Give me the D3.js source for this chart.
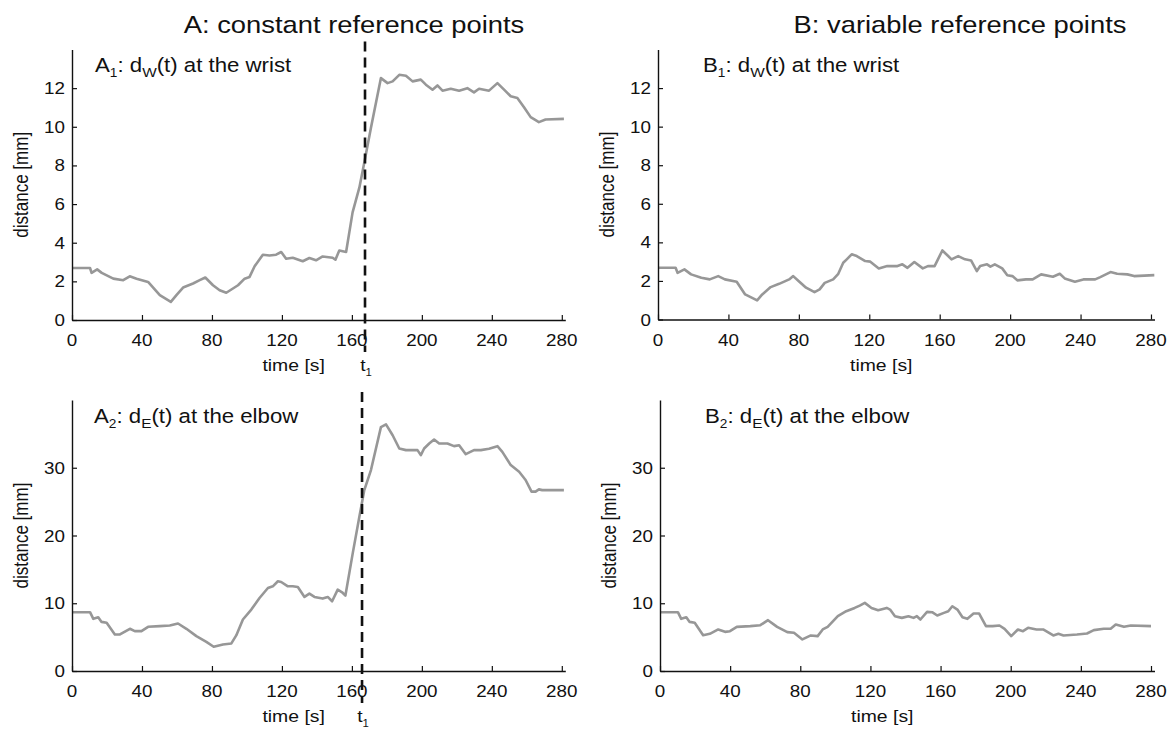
<!DOCTYPE html>
<html>
<head>
<meta charset="utf-8">
<script src="https://cdn.jsdelivr.net/npm/d3@7"></script>
<style>
  html, body { margin: 0; padding: 0; background: #fff; }
  svg text { font-family: "Liberation Sans", Arial, Helvetica, sans-serif; fill: #111; }
</style>
</head>
<body>
<svg id="chart" width="1172" height="729"></svg>
<script>
// ---------------- data ----------------
const xTicks = [0, 40, 80, 120, 160, 200, 240, 280];
const yTicksWrist = [0, 2, 4, 6, 8, 10, 12];
const yTicksElbow = [0, 10, 20, 30];
const columnTitles = ["A: constant reference points", "B: variable reference points"];

const a1T = [0,10.3,11.2,14.4,17,23.6,29.3,33,36.9,43.5,50.2,56.5,59.7,63.5,69.2,73,76.2,80.6,84.4,88.2,92,94.9,98.7,101.5,104.4,109.1,112.9,116.7,119.6,122.4,126.2,131.9,135.7,139.5,143.3,149,150.6,152.8,156.7,160.4,164.3,167.1,170.9,176.6,180.4,183.3,187.1,190.9,194.7,199.4,202.3,206.1,208.9,211.8,216.5,221.3,226,229.8,232.7,238.4,243.2,247,250.8,254.6,258.4,262.2,266.9,270.7,281.2];
const a1V = [2.69,2.69,2.44,2.62,2.44,2.14,2.06,2.26,2.14,1.97,1.29,0.94,1.29,1.68,1.89,2.06,2.2,1.8,1.54,1.41,1.63,1.8,2.14,2.23,2.78,3.38,3.34,3.38,3.52,3.17,3.22,3.04,3.21,3.09,3.29,3.22,3.12,3.6,3.52,5.57,6.86,8.15,9.95,12.52,12.26,12.35,12.69,12.64,12.35,12.44,12.18,11.92,12.14,11.87,11.97,11.87,12.0,11.78,11.97,11.87,12.26,11.92,11.58,11.49,11.01,10.5,10.24,10.38,10.41];

const b1T = [0,10,11.1,15,18.8,24.6,29.4,34.2,38,44.7,49.5,56.3,59.2,64,68.8,74.5,76.8,80.3,84.1,88.9,91.8,94.7,99.5,102.4,105.2,107.2,110,112.9,117.7,120.6,125.4,130.2,136,138.8,141.7,145.6,150.4,153.3,157.1,159,161.5,164.8,166.7,170.5,174.4,177.8,181.1,183,186.9,188.8,191.3,195.5,198.4,201.3,204.1,209,212.8,217.6,224.3,228.2,231,236.8,241.6,248.3,251.2,257,260.8,266.6,270.4,281.9];
const b1V = [2.68,2.68,2.42,2.6,2.34,2.16,2.08,2.25,2.08,1.96,1.3,0.99,1.3,1.68,1.85,2.08,2.25,1.96,1.65,1.42,1.56,1.9,2.08,2.37,2.94,3.12,3.38,3.29,3.03,3.0,2.65,2.77,2.77,2.86,2.68,2.98,2.65,2.77,2.77,3.12,3.58,3.29,3.12,3.29,3.12,3.06,2.51,2.77,2.86,2.74,2.86,2.65,2.29,2.25,2.03,2.08,2.08,2.34,2.22,2.37,2.13,1.96,2.08,2.08,2.2,2.46,2.37,2.34,2.25,2.3];

const a2T = [0,10.3,12.2,15,16.9,19.8,24.5,27.4,33.1,35.9,39.7,43.5,50.2,55.9,60.6,65.4,71.1,76.8,81,86.3,91.1,93.9,97.7,102.5,107.2,112,114.8,117.7,119.6,123.4,126.2,129.1,132.9,135.7,138.6,143.3,146.2,148.7,151.9,154.4,156.3,160.5,164.3,167.1,170.9,176.6,179.5,183.3,187.1,190.9,197.5,199.4,201.3,204.2,207,209.9,214.6,218.4,221.3,225.1,229.8,233.7,238.4,243.2,246,250.8,255.6,259.3,262.7,265,266.9,268.8,281.2];
const a2V = [8.68,8.68,7.7,7.94,7.25,7.11,5.39,5.39,6.23,5.88,5.88,6.52,6.62,6.72,7.01,6.23,5.15,4.31,3.58,3.92,4.07,5.25,7.6,9.07,10.78,12.25,12.5,13.24,13.14,12.5,12.5,12.4,10.93,11.42,10.93,10.69,10.93,10.29,12.01,11.62,11.13,17.4,22.8,26.7,29.66,36.0,36.4,34.8,32.84,32.6,32.6,31.86,32.84,33.58,34.17,33.58,33.58,33.19,33.33,32.0,32.6,32.6,32.8,33.19,32.35,30.39,29.4,28.19,26.47,26.47,26.81,26.7,26.7];

const b2T = [0,10.2,12.1,15,16.9,19.8,24.6,28.4,33.2,37.1,39.9,43.8,51.5,57.2,61.6,66.8,72.6,76.4,81.2,86,89.9,92.8,95.6,101.4,106.2,111,113.9,116.8,120.6,124.4,129.3,131.2,134,137.9,141.7,144.6,146.5,148.5,152.3,155.2,158.1,161.9,164.4,166.7,169.6,172.5,175.3,178.8,182,185.9,189.7,193.6,196.5,200.3,204.1,207,209.9,214.7,218.5,224.3,227.2,230.1,237.8,243.5,247.4,253.1,257,259.9,264.6,268.5,280];
const b2V = [8.68,8.68,7.7,7.94,7.25,7.11,5.29,5.49,6.13,5.78,5.88,6.52,6.62,6.76,7.5,6.52,5.74,5.64,4.66,5.25,5.15,6.13,6.52,8.09,8.82,9.31,9.66,10.05,9.31,8.97,9.31,9.07,8.09,7.84,8.09,7.84,8.09,7.6,8.73,8.68,8.19,8.58,8.82,9.56,9.07,7.94,7.7,8.48,8.48,6.62,6.62,6.72,6.23,5.15,6.13,5.88,6.37,6.13,6.13,5.25,5.49,5.25,5.39,5.54,6.03,6.23,6.23,6.86,6.52,6.72,6.62];

const t1A1 = 167.5;   // event time marked in A1
const t1A2 = 165.8;   // event time marked in A2

// ---------------- layout ----------------
const SX = 1.14; // horizontal text stretch seen in the reference
const svg = d3.select("#chart");

function txt(g, x, y, anchor, size, parts, rotate) {
  const t = g.append("text")
    .attr("transform", `translate(${x},${y})` + (rotate ? ` rotate(${rotate}) scale(1,${SX})` : ` scale(${SX},1)`))
    .attr("text-anchor", anchor)
    .style("font-size", size + "px");
  if (typeof parts === "string") { t.text(parts); return t; }
  let lowered = false;
  parts.forEach(p => {
    if (typeof p === "object") {
      t.append("tspan").attr("dy", 5).style("font-size", p.size + "px").text(p.sub);
      lowered = true;
    } else {
      const s = t.append("tspan").text(p);
      if (lowered) { s.attr("dy", -5); lowered = false; }
    }
  });
  return t;
}

const panels = [
  { t: a1T, v: a1V, x0: 72, x1: 565.3, y0: 320, y1: 49.5, yMax: 14, ticks: yTicksWrist,
    title: ["A", {sub: "1", size: 12}, ": d", {sub: "W", size: 13.5}, "(t) at the wrist"], tx: 95, ty: 72, t1: t1A1 },
  { t: b1T, v: b1V, x0: 658, x1: 1154.5, y0: 319.5, y1: 49.5, yMax: 14, ticks: yTicksWrist,
    title: ["B", {sub: "1", size: 12}, ": d", {sub: "W", size: 13.5}, "(t) at the wrist"], tx: 703, ty: 72 },
  { t: a2T, v: a2V, x0: 72, x1: 565.3, y0: 671, y1: 400, yMax: 40, ticks: yTicksElbow,
    title: ["A", {sub: "2", size: 12}, ": d", {sub: "E", size: 13.5}, "(t) at the elbow"], tx: 94, ty: 423, t1: t1A2 },
  { t: b2T, v: b2V, x0: 660, x1: 1154.5, y0: 671, y1: 400, yMax: 40, ticks: yTicksElbow,
    title: ["B", {sub: "2", size: 12}, ": d", {sub: "E", size: 13.5}, "(t) at the elbow"], tx: 705, ty: 423 }
];

// column titles
txt(svg, 354, 33, "middle", 24, columnTitles[0]);
txt(svg, 960, 33, "middle", 24, columnTitles[1]);

panels.forEach(p => {
  const g = svg.append("g");
  const x = d3.scaleLinear().domain([0, 282]).range([p.x0, p.x1]);
  const y = d3.scaleLinear().domain([0, p.yMax]).range([p.y0, p.y1]);

  // data line
  const pts = p.t.map((t, i) => [t, p.v[i]]);
  g.append("path")
    .datum(pts)
    .attr("fill", "none")
    .attr("stroke", "#979797")
    .attr("stroke-width", 2.6)
    .attr("stroke-linejoin", "round")
    .attr("d", d3.line().x(d => x(d[0])).y(d => y(d[1])));

  // x axis (inward ticks)
  const xa = g.append("g").attr("transform", `translate(0,${p.y0})`)
    .call(d3.axisBottom(x).tickValues(xTicks).tickSize(-5).tickSizeOuter(0).tickFormat(d3.format("d")));
  xa.select(".domain").attr("stroke", "#111").attr("stroke-width", 1.4);
  xa.selectAll(".tick line").attr("stroke", "#111").attr("stroke-width", 1.2);
  xa.selectAll(".tick text").remove();
  xTicks.forEach(t => txt(g, x(t), p.y0 + 26, "middle", 16.5, String(t)));

  // y axis (inward ticks)
  const ya = g.append("g").attr("transform", `translate(${p.x0},0)`)
    .call(d3.axisLeft(y).tickValues(p.ticks).tickSize(-5).tickSizeOuter(0));
  ya.select(".domain").attr("stroke", "#111").attr("stroke-width", 1.4);
  ya.selectAll(".tick line").attr("stroke", "#111").attr("stroke-width", 1.2);
  ya.selectAll(".tick text").remove();
  p.ticks.forEach(v => txt(g, p.x0 - 7, y(v) + 6, "end", 16.5, String(v)));

  // axis labels
  txt(g, (p.x0 + p.x1) / 2 - 25, p.y0 + 51, "middle", 17, "time [s]");
  txt(g, p.x0 - 44, (p.y0 + p.y1) / 2, "middle", 17, "distance [mm]", -90);

  // panel title
  txt(g, p.tx, p.ty, "start", 19.5, p.title);

  // event marker
  if (p.t1 !== undefined) {
    g.append("line")
      .attr("x1", x(p.t1)).attr("x2", x(p.t1))
      .attr("y1", p.y1 - 8).attr("y2", p.y0 + 32)
      .attr("stroke", "#111").attr("stroke-width", 2.6)
      .attr("stroke-dasharray", "10,6");
    txt(g, x(p.t1) + 1, p.y0 + 51, "middle", 17, ["t", {sub: "1", size: 10}]);
  }
});
</script>
</body>
</html>
